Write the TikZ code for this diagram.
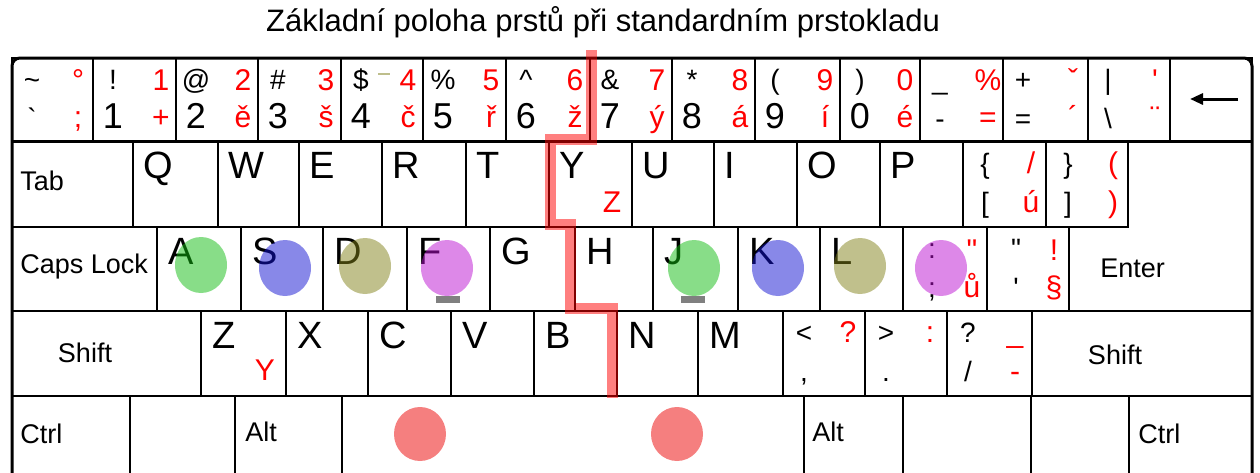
\documentclass[tikz,border=0pt]{standalone}
\usepackage{fontspec}
\setmainfont{Liberation Sans}
\usetikzlibrary{arrows.meta}
\newcommand\symsz{\fontsize{14}{14}\selectfont}
\definecolor{fgreen}{RGB}{17,187,17}
\definecolor{fblue}{RGB}{17,17,209}
\definecolor{folive}{RGB}{129,129,25}
\definecolor{fviolet}{RGB}{187,17,209}
\definecolor{fred}{RGB}{235,0,0}
\definecolor{dashol}{RGB}{190,190,140}
\tikzset{
  keyline/.style={line width=1pt},
  bigch/.style={font=\fontsize{19}{19}\selectfont, inner sep=0pt, anchor=north west},
  sym/.style={font=\symsz, inner sep=0pt, anchor=base},
  cz/.style={sym, font=\fontsize{15}{15}\selectfont, text=red},
  digit/.style={font=\fontsize{18}{18}\selectfont, inner sep=0pt, anchor=base},
  keyname/.style={font=\fontsize{13.5}{13.5}\selectfont, inner sep=0pt, anchor=west},
  finger/.style={fill opacity=0.5},
  homebar/.style={fill=black!50},
}
\begin{document}
\begin{tikzpicture}[x=0.5pt, y=-0.5pt]
  \path[use as bounding box] (0,0) rectangle (1260,472);
  \clip (0,0) rectangle (1260,472);
  \node[font=\fontsize{15.5}{15.5}\selectfont] (title) at (603,22) {Základní poloha prstů při standardním prstokladu};

  % row 1: numbers
  \foreach \kl/\kr/\ka/\kb/\kc/\kd in {12/93/\textasciitilde/°/{\symsz\textasciigrave}/;,
      93/176/!/1/1/+, 176/258/@/2/2/ě, 258/341/\#/3/3/š, 341/423/\$/4/4/č,
      423/506/\%/5/5/ř, 506/590/\textasciicircum/6/6/ž, 590/672/\&/7/7/ý,
      672/755/*/8/8/á, 755/840/{(}/9/9/í, 840/920/{)}/0/0/é,
      920/1003/\_/\%/{\symsz-}/=, 1003/1088/+/ˇ/{\symsz=}/´,
      1088/1170/\textbar/\textquotesingle/{\symsz\textbackslash}/¨}{
    \draw[keyline] (\kl,58) rectangle (\kr,141);
    \node[sym] at (\kl+20,89) {\ka};
    \node[cz] at (\kr-15,90) {\kb};
    \node[digit] at (\kl+20,128) {\kc};
    \node[cz] at (\kr-15,127) {\kd};
  }
  \draw[line width=0.8pt, dashol] (378,74) -- (390,74);
  \draw[keyline] (1170,58) rectangle (1252,141);
  \coordinate (bsR) at (1238,99);
  \coordinate (bsL) at (1190,99);
  \draw[line width=1.5pt, -{Triangle[length=6.5pt, width=5.5pt]}] (bsR) -- (bsL);

  % row 2
  \draw[keyline] (12,142) rectangle (133,227);
  \node[keyname] at (20,181) {Tab};
  \foreach \kl/\kr/\ch in {133/218/Q, 218/299/W, 299/382/E, 382/466/R, 466/549/T,
      549/632/Y, 632/714/U, 714/797/I, 797/880/O, 880/963/P}{
    \draw[keyline] (\kl,142) rectangle (\kr,227);
    \node[bigch] at (\kl+10,152) {\ch};
  }
  \node[cz] at (612,212) {Z};
  \foreach \kl/\kr/\ka/\kb/\kc/\kd in {963/1046/\{/{/}/{[}/ú, 1046/1128/\}/{(}/{]}/{)}}{
    \draw[keyline] (\kl,142) rectangle (\kr,227);
    \node[sym] at (\kl+22,173) {\ka};
    \node[cz] at (\kr-15,173) {\kb};
    \node[sym] at (\kl+22,212) {\kc};
    \node[cz] at (\kr-15,212) {\kd};
  }
  \draw[keyline] (1128,142) -- (1252,142) -- (1252,311) -- (1069,311) -- (1069,227) -- (1128,227) -- cycle;

  % row 3
  \draw[keyline] (12,227) rectangle (157,311);
  \node[keyname] at (20,267) {Caps Lock};
  \foreach \kl/\kr/\ch in {157/241/A, 241/323/S, 323/407/D, 407/490/F, 490/575/G,
      575/653/H, 653/738/J, 738/820/K, 820/903/L}{
    \draw[keyline] (\kl,227) rectangle (\kr,311);
    \node[bigch] at (\kl+11,238) {\ch};
  }
  \foreach \kl/\kr/\ka/\kb/\kc/\kd in {903/987/:/\textquotedbl/;/ů, 987/1069/\textquotedbl/!/\textquotesingle/§}{
    \draw[keyline] (\kl,227) rectangle (\kr,311);
    \node[sym] at (\kl+29,258) {\ka};
    \node[cz] at (\kr-15,260) {\kb};
    \node[sym] at (\kl+29,297) {\kc};
    \node[cz] at (\kr-15,297) {\kd};
  }
  \node[keyname] at (1100,268) {Enter};
  \foreach \cx/\cy/\col in {201/265/fgreen, 285/268/fblue, 365/266/folive, 447/268/fviolet,
      694/268/fgreen, 778/268/fblue, 860/266/folive, 941/268/fviolet}
    \fill[finger, fill=\col] (\cx,\cy) ellipse [x radius=26, y radius=28];
  \fill[homebar] (436,296) rectangle (460,303);
  \fill[homebar] (681,296) rectangle (705,303);

  % row 4
  \draw[keyline] (12,311) rectangle (201,396);
  \node[keyname, anchor=center] at (85,353) {Shift};
  \foreach \kl/\kr/\ch in {201/286/Z, 286/368/X, 368/451/C, 451/534/V, 534/617/B,
      617/698/N, 698/783/M}{
    \draw[keyline] (\kl,311) rectangle (\kr,396);
    \node[bigch] at (\kl+11,322) {\ch};
  }
  \node[cz] at (265,380) {Y};
  \foreach \kl/\kr/\ka/\kb/\kc/\kd in {783/865/</?/{,}/{}, 865/947/>/:/./{}, 947/1032/?/\_/{/}/-}{
    \draw[keyline] (\kl,311) rectangle (\kr,396);
    \node[sym] at (\kl+21,342) {\ka};
    \node[cz] at (\kr-17,342) {\kb};
    \node[sym] at (\kl+21,381) {\kc};
    \node[cz] at (\kr-17,381) {\kd};
  }
  \draw[keyline] (1032,311) rectangle (1252,396);
  \node[keyname, anchor=center] at (1115,355) {Shift};

  % row 5
  \foreach \kl/\kr in {12/130, 130/235, 235/342, 342/804, 804/903, 903/1031, 1031/1129, 1129/1252}
    \draw[keyline] (\kl,396) rectangle (\kr,490);
  \node[keyname] at (20,434) {Ctrl};
  \node[keyname] at (245,432) {Alt};
  \node[keyname] at (812,432) {Alt};
  \node[keyname] at (1138,434) {Ctrl};
  \fill[finger, fill=fred] (420,434) ellipse [x radius=26, y radius=27];
  \fill[finger, fill=fred] (677,434) ellipse [x radius=26, y radius=27];

  \draw[line width=1.5pt, rounded corners=4pt] (12,58) rectangle (1252,490);
  % finger border
  \draw[line width=5.5pt, red, opacity=0.5] (591,50) -- (591,139) -- (550,139) -- (550,224)
    -- (570,224) -- (570,308) -- (612,308) -- (612,398);
\end{tikzpicture}
\end{document}
